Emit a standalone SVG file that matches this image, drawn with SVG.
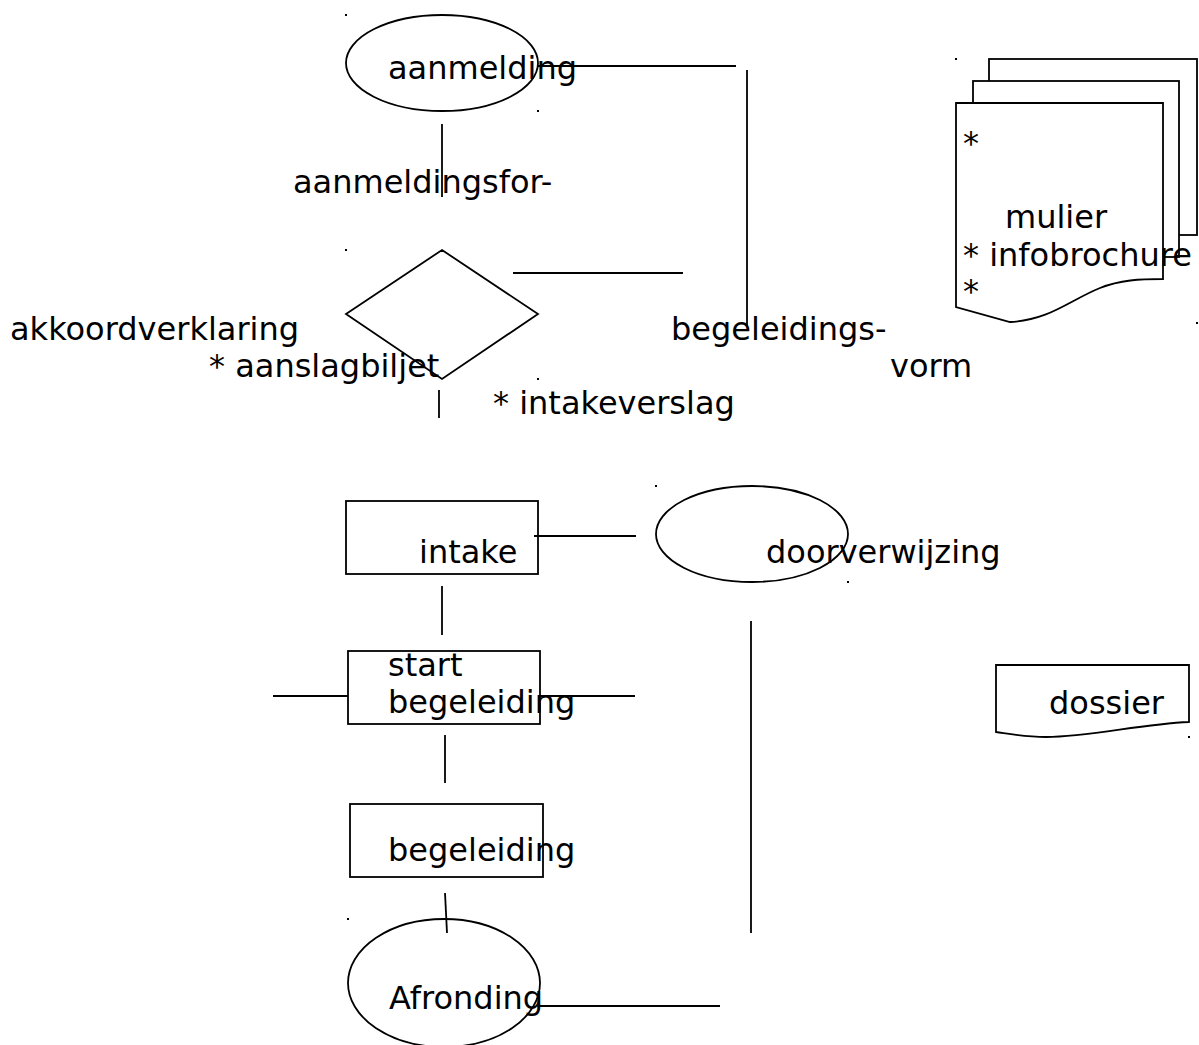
<svg xmlns="http://www.w3.org/2000/svg" width="1199" height="1045" viewBox="0 0 1199 1045">
<style>
.s{fill:none;stroke:#000;stroke-width:1.8}
.w{fill:#fff;stroke:#000;stroke-width:1.8}
text{font-family:"DejaVu Sans",sans-serif;font-size:32px;fill:#000}
.d{fill:#000}
</style>
<rect width="1199" height="1045" fill="#fff"/>
<g id="connectors">
<line class="s" x1="537" y1="66" x2="736" y2="66"/>
<line class="s" x1="747" y1="70" x2="747" y2="327"/>
<line class="s" x1="442" y1="124" x2="442" y2="197"/>
<line class="s" x1="513" y1="273" x2="683" y2="273"/>
<line class="s" x1="439" y1="390" x2="439" y2="418"/>
<line class="s" x1="534" y1="536" x2="636" y2="536"/>
<line class="s" x1="442" y1="586" x2="442" y2="635"/>
<line class="s" x1="273" y1="696" x2="348" y2="696"/>
<line class="s" x1="540" y1="696" x2="635" y2="696"/>
<line class="s" x1="445" y1="735" x2="445" y2="783"/>
<line class="s" x1="445" y1="893" x2="447" y2="933"/>
<line class="s" x1="540" y1="1006" x2="720" y2="1006"/>
<line class="s" x1="751" y1="621" x2="751" y2="933"/>
</g>
<g id="aanmelding">
<ellipse class="s" cx="442" cy="63" rx="96" ry="48"/>
<text x="388" y="79">aanmelding</text>
</g>
<g id="label-aanmeldingsformulier">
<text x="293" y="193">aanmeldingsfor-</text>
</g>
<g id="beslissing">
<polygon class="s" points="442,250 538,314 442,379 346,314"/>
</g>
<g id="label-akkoord">
<text x="10" y="340">akkoordverklaring</text>
<text x="209" y="377">* aanslagbiljet</text>
<text x="493" y="414">* intakeverslag</text>
</g>
<g id="label-begeleidingsvorm">
<text x="671" y="340">begeleidings-</text>
<text x="890" y="377">vorm</text>
</g>
<g id="documenten">
<rect class="w" x="989" y="59" width="208" height="176"/>
<rect class="w" x="973" y="81" width="206" height="176"/>
<path class="w" d="M956,103 H1163 V279 C1140,279 1120,280 1100,288 C1070,300 1050,320 1010,322 L956,307 Z"/>
<text x="963" y="154">*</text>
<text x="1005" y="228">mulier</text>
<text x="963" y="266">* infobrochure</text>
<text x="963" y="302">*</text>
</g>
<g id="intake">
<rect class="s" x="346" y="501" width="192" height="73"/>
<text x="419" y="563">intake</text>
</g>
<g id="doorverwijzing">
<ellipse class="s" cx="752" cy="534" rx="96" ry="48"/>
<text x="766" y="563">doorverwijzing</text>
</g>
<g id="start-begeleiding">
<rect class="s" x="348" y="651" width="192" height="73"/>
<text x="388" y="676">start</text>
<text x="388" y="713">begeleiding</text>
</g>
<g id="begeleiding">
<rect class="s" x="350" y="804" width="193" height="73"/>
<text x="388" y="861">begeleiding</text>
</g>
<g id="afronding">
<ellipse class="s" cx="444" cy="983" rx="96" ry="64"/>
<text x="389" y="1009">Afronding</text>
</g>
<g id="dossier">
<path class="w" d="M996,665 H1189 V722 C1140,724 1090,737 1046,737 C1025,737 1010,734 996,732 Z"/>
<text x="1049" y="714">dossier</text>
</g>
<g id="markers">
<rect class="d" x="345" y="14" width="2" height="2"/>
<rect class="d" x="537" y="110" width="2" height="2"/>
<rect class="d" x="345" y="249" width="2" height="2"/>
<rect class="d" x="537" y="378" width="2" height="2"/>
<rect class="d" x="955" y="58" width="2" height="2"/>
<rect class="d" x="1196" y="322" width="2" height="2"/>
<rect class="d" x="655" y="485" width="2" height="2"/>
<rect class="d" x="847" y="581" width="2" height="2"/>
<rect class="d" x="1188" y="736" width="2" height="2"/>
<rect class="d" x="347" y="918" width="2" height="2"/>
</g>
</svg>
